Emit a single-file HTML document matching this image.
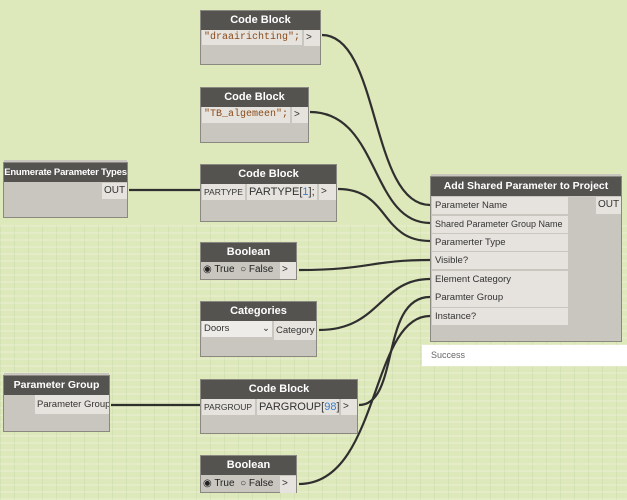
<!DOCTYPE html>
<html><head><style>
body{margin:0;width:627px;height:500px;overflow:hidden;background:#dde8bb;font-family:"Liberation Sans",sans-serif;position:relative}
*{white-space:nowrap}
.n{position:absolute;background:#c9c6bf;border:1px solid #8a8880;box-sizing:border-box}
.h{background:#555350;color:#fff;font-weight:bold;font-size:11px;text-align:center;height:19px;line-height:19px;overflow:hidden}
.r{position:absolute;background:#e6e3de;font-size:10px;color:#333;line-height:16px;height:16px;padding:0 2px;box-sizing:border-box;overflow:hidden}
.m{font-family:"Liberation Mono",monospace;color:#8a4b1a;font-size:10px}
.in{position:absolute;left:1px;width:136px;height:17px;background:#e6e3de;font-size:9.5px;color:#333;line-height:17px;padding-left:3px;box-sizing:border-box;overflow:hidden}
.grid{position:absolute;left:0;top:225px;width:627px;height:275px;background:repeating-linear-gradient(0deg,rgba(255,255,255,.18) 0 2px,transparent 2px 7px),repeating-linear-gradient(90deg,rgba(140,170,110,.12) 0 1px,transparent 1px 14px);}
</style></head><body>
<div class="grid"></div>
<svg width="627" height="500" style="position:absolute;left:0;top:0">
<g fill="none" stroke="#2f2f2f" stroke-width="2.2">
<path d="M322 35 C380 35,370 205,430 205"/>
<path d="M310 112 C380 112,370 223,430 223"/>
<path d="M338 189 C390 189,380 241,430 241"/>
<path d="M299 270 C370 270,370 260,430 260"/>
<path d="M319 330 C380 330,380 279,430 279"/>
<path d="M359 405 C400 405,380 297,430 297"/>
<path d="M299 484 C380 484,370 316,430 316"/>
<path d="M129 190 L200 190"/>
<path d="M111 405 L200 405"/>
</g></svg>

<div class="n" style="left:200px;top:10px;width:121px;height:55px"><div class="h">Code Block</div>
<div class="r m" style="left:1px;top:19px;width:100px;height:15px;line-height:15px">"draairichting";</div><div class="r" style="left:103px;top:19px;width:16px">&gt;</div></div>

<div class="n" style="left:200px;top:87px;width:109px;height:56px"><div class="h">Code Block</div>
<div class="r m" style="left:1px;top:19px;width:88px;line-height:15px">"TB_algemeen";</div><div class="r" style="left:91px;top:19px;width:16px">&gt;</div></div>

<div class="n" style="left:3px;top:162px;width:125px;height:56px;box-shadow:0 -3px 0 -1px #c9c6bf"><div class="h" style="font-size:9.5px;letter-spacing:-0.2px">Enumerate Parameter Types</div>
<div class="r" style="left:98px;top:20px;width:25px;font-size:10px">OUT</div></div>

<div class="n" style="left:200px;top:164px;width:137px;height:58px"><div class="h">Code Block</div>
<div class="r" style="left:1px;top:19px;width:43px;font-size:8.5px">PARTYPE</div><div class="r" style="left:46px;top:19px;width:70px;font-size:11px">PARTYPE[<span style="color:#3a7fc6">1</span>];</div><div class="r" style="left:118px;top:19px;width:17px">&gt;</div></div>

<div class="n" style="left:200px;top:242px;width:97px;height:38px"><div class="h">Boolean</div>
<div style="position:absolute;left:2px;top:21px;font-size:10px;color:#222">◉ True &nbsp;○ False</div><div class="r" style="left:79px;top:19px;width:16px;height:17px">&gt;</div></div>

<div class="n" style="left:200px;top:301px;width:117px;height:56px"><div class="h">Categories</div>
<div class="r" style="left:1px;top:19px;width:70px;font-size:9.5px;background:#eeece8">Doors<span style="float:right">⌄</span></div><div class="r" style="left:73px;top:19px;width:42px;height:19px;line-height:19px;font-size:9.5px">Category</div></div>

<div class="n" style="left:3px;top:375px;width:107px;height:57px;box-shadow:0 -3px 0 -1px #c9c6bf"><div class="h" style="font-size:10.5px">Parameter Group</div>
<div class="r" style="left:31px;top:19px;width:74px;height:19px;line-height:19px;font-size:9.5px">Parameter Group</div></div>

<div class="n" style="left:200px;top:379px;width:158px;height:55px"><div class="h">Code Block</div>
<div class="r" style="left:1px;top:19px;width:53px;font-size:8.5px">PARGROUP</div><div class="r" style="left:56px;top:19px;width:82px;font-size:11px">PARGROUP[<span style="color:#3a7fc6">98</span>];</div><div class="r" style="left:140px;top:19px;width:16px">&gt;</div></div>

<div class="n" style="left:200px;top:455px;width:97px;height:38px"><div class="h">Boolean</div>
<div style="position:absolute;left:2px;top:22px;font-size:10px;color:#222">◉ True &nbsp;○ False</div><div class="r" style="left:79px;top:20px;width:16px;height:17px">&gt;</div></div>

<div class="n" style="left:430px;top:176px;width:192px;height:166px;box-shadow:0 -3px 0 -1px #c9c6bf"><div class="h" style="font-size:10.5px">Add Shared Parameter to Project</div>
<div class="in" style="top:20px">Parameter Name</div>
<div class="in" style="top:39px;font-size:9px">Shared Parameter Group Name</div>
<div class="in" style="top:57px">Paramerter Type</div>
<div class="in" style="top:75px">Visible?</div>
<div class="in" style="top:94px;height:36px;line-height:18px">Element Category<br>Paramter Group</div>
<div class="in" style="top:131px">Instance?</div>
<div class="r" style="left:165px;top:20px;width:25px;height:17px;font-size:10px">OUT</div></div>

<div style="position:absolute;left:422px;top:345px;width:205px;height:21px;background:#fff;font-size:9px;color:#666;line-height:21px;padding-left:9px;box-sizing:border-box">Success</div>
</body></html>
